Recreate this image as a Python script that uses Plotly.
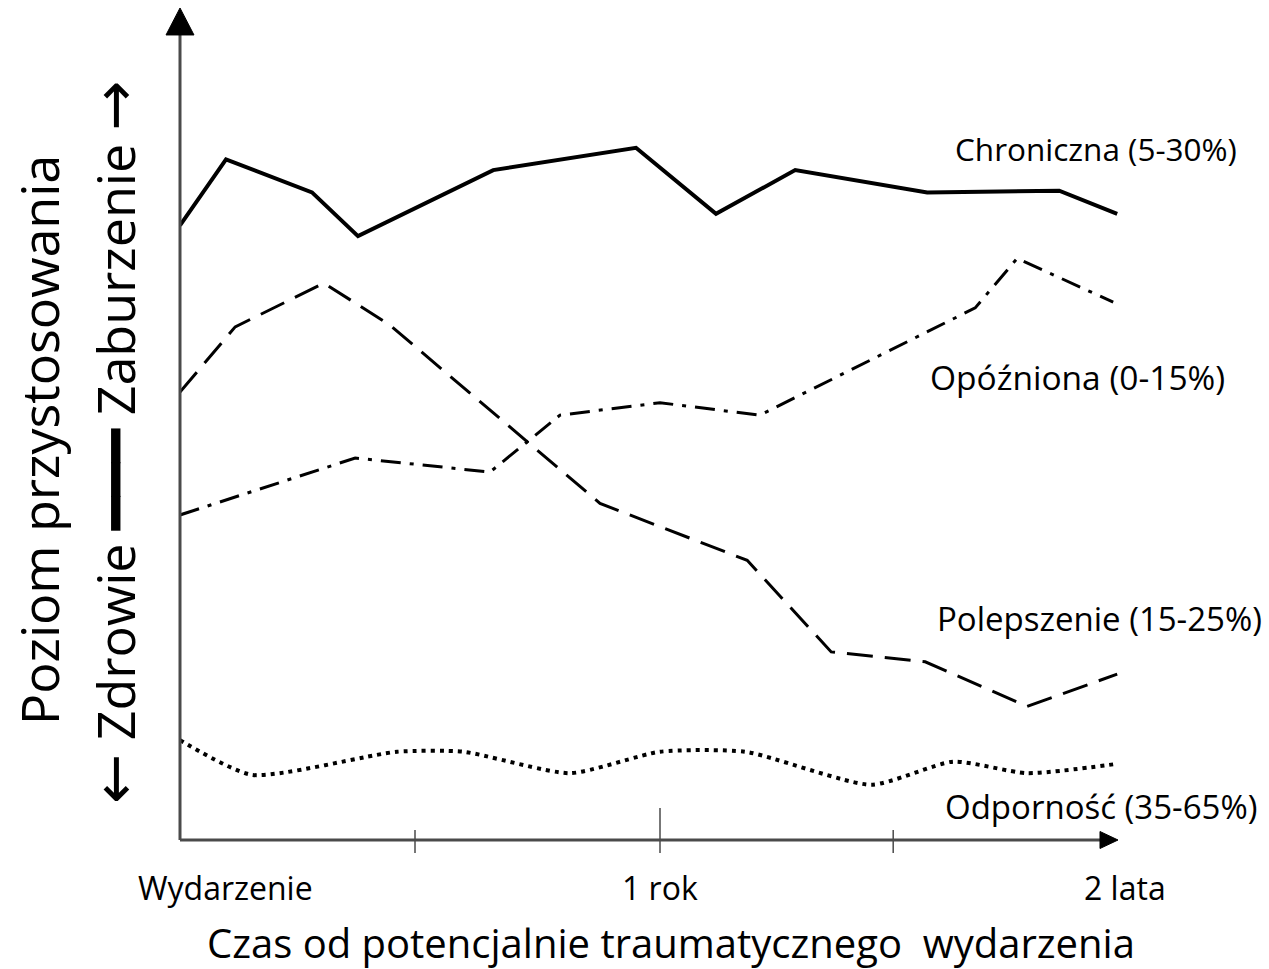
import plotly.graph_objects as go

# ---- data (x: months since event, y: adjustment level 0-100, higher = disruption) ----
chron_x = [0, 1.15, 3.3, 4.45, 7.83, 11.4, 13.4, 15.38, 18.68, 21.98, 23.43]
chron_y = [74.5, 82.5, 78.5, 73.2, 81.2, 83.9, 75.9, 81.2, 78.5, 78.7, 75.9]

polep_x = [0, 1.38, 3.6, 5.25, 10.5, 14.18, 16.28, 18.63, 21.18, 23.43]
polep_y = [54.3, 62.2, 67.5, 62.4, 40.8, 33.9, 22.8, 21.6, 16.2, 20.1]

opozn_x = [0, 4.38, 7.75, 9.5, 12.0, 14.5, 19.88, 20.93, 23.33]
opozn_y = [39.4, 46.3, 44.6, 51.5, 53.0, 51.5, 64.5, 70.5, 65.2]

odp_x = [0, 1.8, 5.43, 7.08, 9.75, 12.0, 14.13, 17.28, 19.33, 21.18, 23.53]
odp_y = [12.1, 7.9, 10.7, 10.7, 8.1, 10.7, 10.7, 6.7, 9.5, 8.1, 9.3]

series_labels = ["Chroniczna (5-30%)", "Opóźniona (0-15%)", "Polepszenie (15-25%)", "Odporność (35-65%)"]
tick_labels = ["Wydarzenie", "1 rok", "2 lata"]
tick_label_px = [225, 660, 1125]
minor_ticks = [5.875, 17.83]
major_ticks = [12.0]
x_title = "Czas od potencjalnie traumatycznego  wydarzenia"
y_title1 = "Poziom przystosowania"
SYM = "<span style='font-family:DejaVu Sans;font-size:{}px'>{}</span>"
y_title2 = (SYM.format(60, "←") + " Zdrowie " + SYM.format(56, "━━━") + " Zaburzenie "
            + SYM.format(60, "→"))

FONT = "Open Sans"

fig = go.Figure()
fig.add_trace(go.Scatter(x=chron_x, y=chron_y, mode="lines",
                         line=dict(color="black", width=4), showlegend=False))
fig.add_trace(go.Scatter(x=polep_x, y=polep_y, mode="lines",
                         line=dict(color="black", width=3, dash="26px,12px"), showlegend=False))
fig.add_trace(go.Scatter(x=opozn_x, y=opozn_y, mode="lines",
                         line=dict(color="black", width=3, dash="20px,9px,4px,9px"), showlegend=False))
fig.add_trace(go.Scatter(x=odp_x, y=odp_y, mode="lines",
                         line=dict(color="black", width=4, dash="4px,5px", shape="spline", smoothing=0.6),
                         showlegend=False))

shapes = []
axis_col = "#4a4a4a"
shapes.append(dict(type="line", xref="paper", yref="paper", x0=0, x1=0.985, y0=0, y1=0,
                   line=dict(color=axis_col, width=3)))
shapes.append(dict(type="line", xref="paper", yref="paper", x0=0, x1=0, y0=0, y1=0.98,
                   line=dict(color=axis_col, width=3)))
shapes.append(dict(type="path", xref="paper", yref="paper",
                   path="M 1.0,0 L 0.9808,0.0103 L 0.9808,-0.0103 Z",
                   fillcolor="black", line=dict(color="black", width=1)))
shapes.append(dict(type="path", xref="paper", yref="paper",
                   path="M 0,1.0085 L 0.0149,0.9758 L -0.0149,0.9758 Z",
                   fillcolor="black", line=dict(color="black", width=1)))
for t in minor_ticks:
    shapes.append(dict(type="line", xref="x", yref="paper", x0=t, x1=t, y0=0.0121, y1=-0.0158,
                       line=dict(color=axis_col, width=1.5)))
for t in major_ticks:
    shapes.append(dict(type="line", xref="x", yref="paper", x0=t, x1=t, y0=0.0388, y1=-0.0158,
                       line=dict(color=axis_col, width=1.5)))

annotations = []
for txt, px in zip(tick_labels, tick_label_px):
    annotations.append(dict(text=txt, x=(px - 180) / 938, xref="paper", y=-0.058, yref="paper",
                            showarrow=False, font=dict(family=FONT, size=32, color="black"),
                            xanchor="center", yanchor="middle"))
annotations.append(dict(text=x_title, x=0.5235, xref="paper", y=-0.124, yref="paper", showarrow=False,
                        font=dict(family=FONT, size=40, color="black"), xanchor="center", yanchor="middle"))
label_pos = [(953, 148), (928, 377), (935, 618), (943, 806)]
label_size = [31.5, 33.5, 33, 33]
for txt, (px, py), sz in zip(series_labels, label_pos, label_size):
    annotations.append(dict(text=txt, x=(px - 180) / 938, xref="paper", y=(840 - py) / 825, yref="paper",
                            showarrow=False, xanchor="left", yanchor="middle",
                            font=dict(family=FONT, size=sz, color="black")))
annotations.append(dict(text=y_title1, x=(38 - 180) / 938, xref="paper", y=(840 - 440) / 825, yref="paper",
                        showarrow=False, textangle=-90, xanchor="center", yanchor="middle",
                        font=dict(family=FONT, size=52, color="black")))
annotations.append(dict(text=y_title2, x=(114 - 180) / 938, xref="paper", y=(840 - 442) / 825, yref="paper",
                        showarrow=False, textangle=-90, xanchor="center", yanchor="middle",
                        font=dict(family=FONT, size=52, color="black")))

fig.update_layout(
    width=1269, height=969, autosize=False,
    margin=dict(l=180, r=151, t=15, b=129),
    plot_bgcolor="white", paper_bgcolor="white",
    xaxis=dict(range=[0, 23.45], showgrid=False, zeroline=False, showline=False, showticklabels=False,
               ticks=""),
    yaxis=dict(range=[0, 100], showgrid=False, zeroline=False, showline=False, showticklabels=False,
               ticks=""),
    shapes=shapes, annotations=annotations,
)

fig.write_html("out.html", config={"displayModeBar": False},
               post_script="document.body.style.margin='0';")
